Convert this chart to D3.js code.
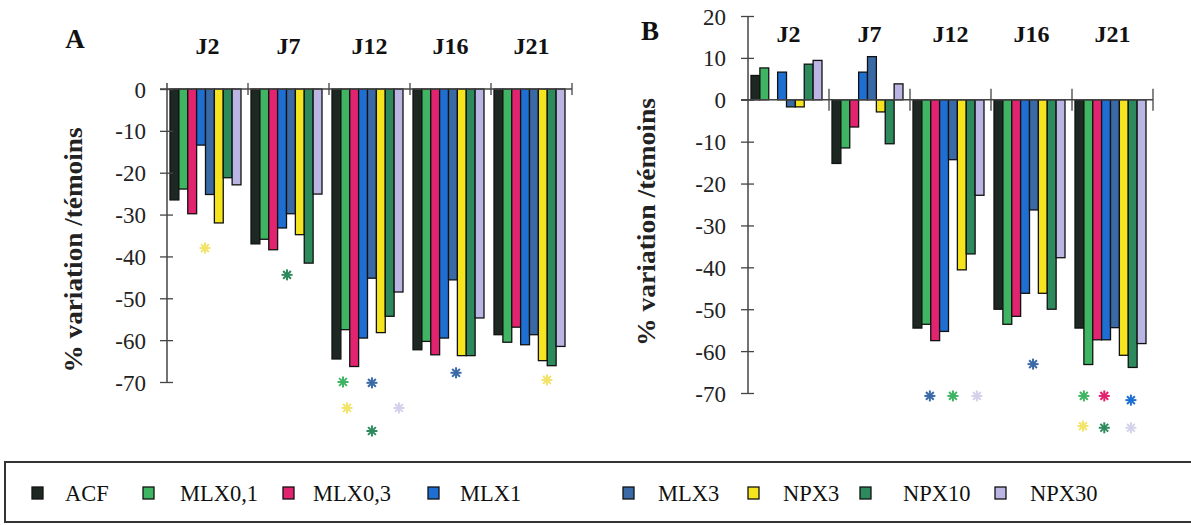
<!DOCTYPE html>
<html><head><meta charset="utf-8">
<script src="https://cdn.jsdelivr.net/npm/d3@7"></script>
<style>body{margin:0;background:#fff}svg{display:block}
svg text{font-family:"Liberation Serif","Tinos","Times New Roman",Times,"DejaVu Serif",serif}</style>
</head><body>
<svg id="c" width="1191" height="525"></svg>
<script>
// ---------- DATA ----------
const groups = ["J2","J7","J12","J16","J21"];
const series = ["ACF","MLX0,1","MLX0,3","MLX1","MLX3","NPX3","NPX10","NPX30"];
const seriesColors = ["#1e2823","#3fb463","#e2236f","#1f6fd2","#3a6aa6","#f6e51e","#2d8a5c","#bab5e2"];
const yTicksA = [0,-10,-20,-30,-40,-50,-60,-70];
const yTicksB = [20,10,0,-10,-20,-30,-40,-50,-60,-70];
// values per group (rows) in series order
const valuesA = [
  [-26.5,-23.9,-29.8,-13.4,-25.2,-32.0,-21.2,-22.9],
  [-37.0,-35.9,-38.4,-33.2,-29.8,-34.8,-41.6,-25.1],
  [-64.5,-57.5,-66.3,-59.5,-45.2,-58.2,-54.3,-48.5],
  [-62.3,-60.3,-63.5,-59.5,-45.6,-63.7,-63.7,-54.7],
  [-58.7,-60.5,-56.9,-61.1,-58.7,-64.9,-66.1,-61.5]
];
const valuesB = [
  [5.8,7.6,0,6.6,-1.7,-1.7,8.5,9.4],
  [-15.2,-11.5,-6.5,6.6,10.3,-2.9,-10.5,3.8],
  [-54.5,-53.6,-57.5,-55.3,-14.3,-40.6,-36.8,-22.8],
  [-50.0,-53.6,-51.7,-46.2,-26.3,-46.2,-50.0,-37.7],
  [-54.5,-63.2,-57.3,-57.3,-54.4,-61.0,-63.9,-58.2]
];
// significance asterisks: group, series (colour), column slot, value level
const starsA = [
  ["J2","NPX3",3.44,-38.0],
  ["J7","NPX10",3.56,-44.4],
  ["J12","MLX0,1",0.74,-70.0],
  ["J12","MLX3",4.0,-70.2],
  ["J12","NPX3",1.19,-76.2],
  ["J12","NPX30",7.05,-76.2],
  ["J12","NPX10",4.0,-81.7],
  ["J16","MLX3",4.35,-67.8],
  ["J21","NPX3",5.47,-69.5]
];
const starsB = [
  ["J12","MLX3",1.4,-70.7],
  ["J12","MLX0,1",4.0,-70.7],
  ["J12","NPX30",6.7,-70.7],
  ["J16","MLX3",3.9,-63.1],
  ["J21","MLX0,1",0.5,-70.7],
  ["J21","MLX0,3",2.8,-70.7],
  ["J21","MLX1",5.8,-71.7],
  ["J21","NPX3",0.4,-77.9],
  ["J21","NPX10",2.8,-78.3],
  ["J21","NPX30",5.8,-78.3]
];
const yLabel = "% variation /témoins";

// ---------- DRAW ----------
const svg = d3.select("#c");
const color = d3.scaleOrdinal().domain(series).range(seriesColors);
const paleStar = {"NPX3":"#f2e46a","NPX30":"#d4d2ea"};

function panel(o){
  const g = svg.append("g");
  const x0 = d3.scaleBand().domain(groups).range([o.x0,o.x1]).paddingInner(0).paddingOuter(0);
  const gw = x0.bandwidth();
  const x1 = d3.scaleBand().domain(series).range([3,gw-7]).paddingInner(0);
  const y = d3.scaleLinear().domain(o.dom).range(o.rng);

  // bars
  const gg = g.selectAll("g.grp").data(groups).join("g").attr("transform",d=>`translate(${x0(d)},0)`);
  gg.each(function(gname,gi){
    d3.select(this).selectAll("rect").data(o.values[gi].map((v,i)=>({s:series[i],v})))
      .join("rect")
      .attr("x",d=>x1(d.s)).attr("width",x1.bandwidth())
      .attr("y",d=>y(Math.max(0,d.v))).attr("height",d=>Math.abs(y(d.v)-y(0)))
      .attr("fill",d=>color(d.s)).attr("stroke","#111").attr("stroke-width",1.3);
  });

  // y axis
  const ax = d3.axisLeft(y).tickValues(o.ticks).tickSize(0).tickPadding(0).tickFormat(d=>String(d));
  const axg = g.append("g").attr("transform",`translate(${o.x0},0)`).call(ax);
  axg.attr("font-family",null).attr("font-size",null);
  axg.select(".domain").remove();
  axg.selectAll(".tick text").attr("x",o.labelDx).attr("font-size",23).attr("fill","#222").attr("dy","0.35em");
  axg.selectAll(".tick").append("line").attr("x1",-7).attr("x2",6).attr("stroke","#444").attr("stroke-width",1.3);
  g.append("line").attr("x1",o.x0).attr("x2",o.x0).attr("y1",y(o.dom[1])-o.axTop).attr("y2",y(o.dom[0]))
    .attr("stroke","#444").attr("stroke-width",1.5);
  // zero line
  g.append("line").attr("x1",o.x0-7).attr("x2",o.x1).attr("y1",y(0)).attr("y2",y(0)).attr("stroke","#444").attr("stroke-width",1.4);
  // separators
  g.selectAll("line.sep").data(groups).join("line").attr("class","sep")
    .attr("x1",d=>x0(d)+gw).attr("x2",d=>x0(d)+gw)
    .attr("y1",y(0)-o.sep).attr("y2",y(0)+o.sep).attr("stroke","#444").attr("stroke-width",1.3);

  // group labels
  g.selectAll("text.jl").data(groups).join("text").attr("class","jl")
    .attr("x",d=>x0(d)+gw/2).attr("y",o.jy).attr("text-anchor","middle")
    .attr("font-weight","bold").attr("font-size",24).attr("fill","#111").text(d=>d);

  // panel letter
  g.append("text").attr("x",o.lx).attr("y",o.ly).attr("text-anchor","middle")
    .attr("font-weight","bold").attr("font-size",27).attr("fill","#111").text(o.letter);

  // y label
  g.append("text").attr("transform",`translate(${o.ylx},${o.yly}) rotate(-90)`).attr("text-anchor","middle")
    .attr("font-weight","bold").attr("font-size",o.ylfs).attr("fill","#222")
    .attr("textLength",o.ylLen).attr("lengthAdjust","spacingAndGlyphs").text(yLabel);

  // asterisks
  const r = 5.5;
  o.stars.forEach(([gn,sn,col,v])=>{
    const cx = x0(gn)+3+x1.bandwidth()*(col+0.5);
    const cy = y(v);
    const sg = g.append("g").attr("transform",`translate(${cx},${cy})`);
    [0,45,90,135].forEach(a=>{
      const rad=a*Math.PI/180;
      sg.append("line").attr("x1",-r*Math.cos(rad)).attr("y1",-r*Math.sin(rad))
        .attr("x2",r*Math.cos(rad)).attr("y2",r*Math.sin(rad))
        .attr("stroke",paleStar[sn]||color(sn)).attr("stroke-width",2);
    });
  });
}

panel({x0:167,x1:572,dom:[-70,0],rng:[382,89],values:valuesA,ticks:yTicksA,labelDx:-21,axTop:6,sep:6,
  jy:54,letter:"A",lx:75,ly:48,ylx:82,yly:250,ylfs:25,ylLen:245,stars:starsA});
panel({x0:748,x1:1153,dom:[-70,20],rng:[393,16],values:valuesB,ticks:yTicksB,labelDx:-22,axTop:0,sep:11,
  jy:42,letter:"B",lx:650,ly:40,ylx:655,yly:222,ylfs:25,ylLen:248,stars:starsB});

// legend
const leg = svg.append("g");
leg.append("rect").attr("x",5).attr("y",462).attr("width",1200).attr("height",60)
  .attr("fill","none").attr("stroke","#333").attr("stroke-width",2);
const legSq = [32,143,283,428,623,748,860,995];
const legTx = [65,180,313,460,658,783,903,1030];
const li = leg.selectAll("g.li").data(series).join("g").attr("class","li");
li.append("rect").attr("x",(d,i)=>legSq[i]).attr("y",487).attr("width",11).attr("height",12)
  .attr("fill",d=>color(d)).attr("stroke","#111").attr("stroke-width",1.3);
li.append("text").attr("x",(d,i)=>legTx[i]).attr("y",501).attr("font-size",22.5)
  .attr("fill","#111").text(d=>d);
</script>
</body></html>
